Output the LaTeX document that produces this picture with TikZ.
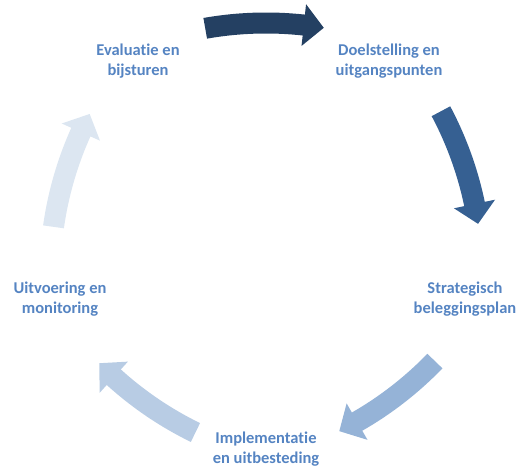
\documentclass[tikz,border=0pt]{standalone}
\usepackage{fontspec}
\setmainfont{Carlito}[RawFeature={-liga}]
\definecolor{arA}{HTML}{244062}
\definecolor{arB}{HTML}{366092}
\definecolor{arC}{HTML}{95B3D7}
\definecolor{arD}{HTML}{B8CCE4}
\definecolor{arE}{HTML}{DCE6F1}
\definecolor{labc}{HTML}{5584C2}
\newcommand\cyclearrow[2]{%
  \begin{scope}[shift={(266,236)}, rotate=#1]
    \fill[#2, shift={(0,-141)}] (100:339.5pt) arc[start angle=100,end angle=83.8,radius=339.5pt]
      -- (83.8:329pt) -- (80.5:350pt) -- (83.8:371pt) -- (83.8:360.5pt)
      arc[start angle=83.8,end angle=100,radius=360.5pt] -- cycle;
  \end{scope}}
\begin{document}
\begin{tikzpicture}[x=1pt,y=1pt,
  lab/.style={align=center, text=labc, font=\fontsize{16.5}{20.5}\selectfont\bfseries, inner sep=0pt}]
\useasboundingbox (0,0) rectangle (527,468);
\cyclearrow{0}{arA}
\cyclearrow{-72}{arB}
\cyclearrow{-144}{arC}
\cyclearrow{-216}{arD}
\cyclearrow{-288}{arE}
\node[lab] (doel) at (389,407) {Doelstelling en\\uitgangspunten};
\node[lab] (strat) at (465,169) {Strategisch\\beleggingsplan};
\node[lab] (impl) at (266,19) {Implementatie\\en uitbesteding};
\node[lab] (uitv) at (60,169) {Uitvoering en\\monitoring};
\node[lab] (eval) at (138,407) {Evaluatie en\\bijsturen};
\end{tikzpicture}
\end{document}
